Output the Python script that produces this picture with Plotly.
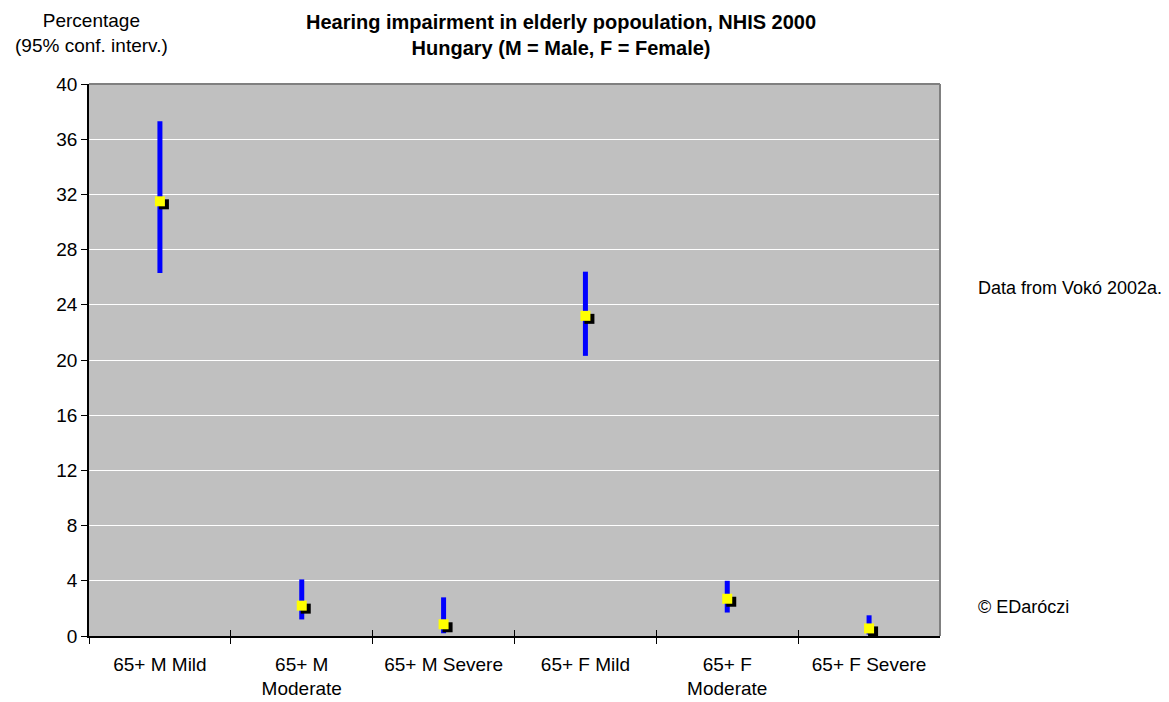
import plotly.graph_objects as go

categories = ["65+ M Mild", "65+ M<br>Moderate", "65+ M Severe", "65+ F Mild", "65+ F<br>Moderate", "65+ F Severe"]
estimate = [31.5, 2.2, 0.85, 23.2, 2.7, 0.55]
ci_low = [26.3, 1.2, 0.2, 20.3, 1.7, 0.1]
ci_high = [37.3, 4.1, 2.8, 26.4, 4.0, 1.5]
y_ticks = [0, 4, 8, 12, 16, 20, 24, 28, 32, 36, 40]

OFF = 8  # page body margin
PX0, PY0, PX1, PY1 = 89, 84, 940, 636  # plot area on screen
W, H = 1169 - OFF, 702 - OFF
L, T = PX0 - OFF, PY0 - OFF
pw, ph = PX1 - PX0, PY1 - PY0
R, B = W - L - pw, H - T - ph


def px(x):
    return (x - PX0) / pw


def py(y):
    return (PY1 - y) / ph


x_pos = list(range(len(categories)))
xr = [-0.5, len(categories) - 0.5]
yr = [0, 40]
sdx = 4 * (xr[1] - xr[0]) / pw
sdy = 3 * (yr[1] - yr[0]) / ph
boundaries = [i - 0.5 for i in range(len(categories))]

font = "Liberation Sans, Arial, sans-serif"
fs = 19

fig = go.Figure()
err_plus = [h - e for h, e in zip(ci_high, estimate)]
err_minus = [e - l for e, l in zip(estimate, ci_low)]

fig.add_trace(go.Scatter(
    x=x_pos, y=estimate, mode="markers",
    marker=dict(size=1, color="rgba(0,0,0,0)"),
    error_y=dict(type="data", symmetric=False, array=err_plus, arrayminus=err_minus,
                 color="#0000ff", thickness=5, width=0),
    hoverinfo="skip", showlegend=False))
fig.add_trace(go.Scatter(
    x=x_pos, y=estimate, mode="markers", xaxis="x2", yaxis="y2",
    marker=dict(symbol="square", size=10, color="black", line=dict(width=0)),
    hoverinfo="skip", showlegend=False))
fig.add_trace(go.Scatter(
    x=x_pos, y=estimate, mode="markers", xaxis="x3", yaxis="y3",
    marker=dict(symbol="square", size=10, color="#ffff00", line=dict(width=0)),
    showlegend=False))

fig.update_layout(
    width=W, height=H,
    margin=dict(l=L, r=R, t=T, b=B, autoexpand=False),
    paper_bgcolor="white", plot_bgcolor="#c0c0c0",
    font=dict(family=font, size=fs, color="black"),
    xaxis=dict(range=xr, tickvals=x_pos, ticktext=categories, ticks="", showgrid=False,
               zeroline=False, showline=True, linecolor="black", linewidth=1.5,
               ticklabelstandoff=10, automargin=False,
               minor=dict(tickvals=boundaries, ticks="outside",
                          ticklen=6, tickcolor="black", tickwidth=1, showgrid=False),
               tickfont=dict(size=fs), fixedrange=True),
    yaxis=dict(range=yr, tickvals=y_ticks, ticks="outside", ticklen=6, tickcolor="black",
               showgrid=True, gridcolor="white", gridwidth=1, zeroline=False, automargin=False,
               showline=True, linecolor="black", linewidth=1.5, tickfont=dict(size=fs)),
    xaxis2=dict(range=[xr[0] - sdx, xr[1] - sdx], overlaying="x", visible=False),
    yaxis2=dict(range=[yr[0] + sdy, yr[1] + sdy], overlaying="y", visible=False),
    xaxis3=dict(range=xr, overlaying="x", anchor="y3", tickvals=boundaries, ticktext=[""] * len(boundaries),
                ticks="inside", ticklen=6, tickcolor="black", tickwidth=1, showgrid=False,
                zeroline=False, showline=False, automargin=False),
    yaxis3=dict(range=yr, overlaying="y", visible=False),
    shapes=[
        dict(type="line", xref="paper", yref="paper", x0=0, x1=1, y0=1, y1=1,
             line=dict(color="#808080", width=2)),
        dict(type="line", xref="paper", yref="paper", x0=1, x1=1, y0=0, y1=1,
             line=dict(color="#808080", width=2)),
    ],
    annotations=[
        dict(text="<b>Hearing impairment in elderly popoulation, NHIS 2000<br>Hungary (M = Male, F = Female)</b>",
             xref="paper", yref="paper", x=px(561), y=py(35),
             xanchor="center", yanchor="middle", showarrow=False, font=dict(size=20)),
        dict(text="Percentage<br>(95% conf. interv.)", xref="paper", yref="paper",
             x=px(91), y=py(33), xanchor="center", yanchor="middle",
             showarrow=False, font=dict(size=fs)),
        dict(text="Data from Vokó 2002a.", xref="paper", yref="paper",
             x=px(976), y=py(288), xanchor="left", yanchor="middle",
             showarrow=False, font=dict(size=18)),
        dict(text="© EDaróczi", xref="paper", yref="paper",
             x=px(976), y=py(607), xanchor="left", yanchor="middle",
             showarrow=False, font=dict(size=18)),
    ],
)

fig.write_html("out.html")
